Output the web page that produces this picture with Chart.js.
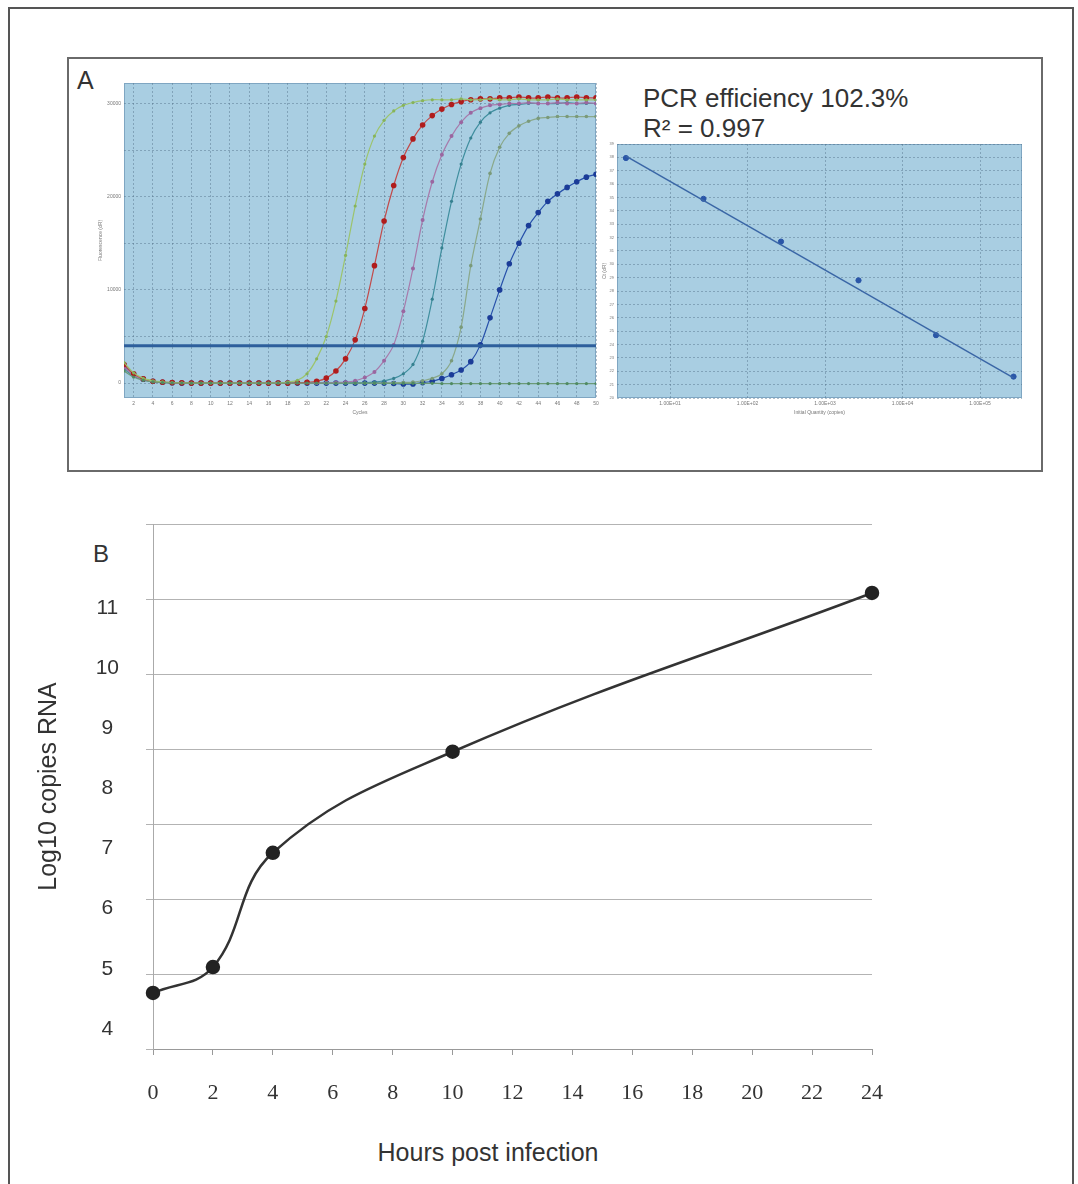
<!DOCTYPE html>
<html>
<head>
<meta charset="utf-8">
<script src="https://cdn.jsdelivr.net/npm/chart.js@4.4.1/dist/chart.umd.min.js"></script>
<style>
  body { margin: 0; background: #fff; width: 1078px; height: 1184px; overflow: hidden; position: relative;
         font-family: "Liberation Sans", Arial, sans-serif; color: #333; }
  .frame { position: absolute; left: 8px; top: 7px; width: 1066px; height: 1200px; border: 2px solid #555;
           border-bottom: none; box-sizing: border-box; }
  .boxA { position: absolute; left: 67px; top: 57px; width: 976px; height: 415px; border: 2px solid #6a6a6a;
          box-sizing: border-box; }
  .txt { position: absolute; white-space: nowrap; }
  canvas { position: absolute; }
</style>
</head>
<body>
<div class="frame"></div>
<div class="boxA"></div>

<div class="txt" style="left:77px;top:68px;font-size:25px;line-height:25px;">A</div>
<div class="txt" style="left:643px;top:85px;font-size:26px;line-height:26px;">PCR efficiency 102.3%</div>
<div class="txt" style="left:643px;top:115px;font-size:26px;line-height:26px;">R² = 0.997</div>
<div class="txt" style="left:93px;top:542px;font-size:24px;line-height:24px;">B</div>
<div class="txt" style="left:338px;width:300px;text-align:center;top:1140px;font-size:25px;line-height:25px;">Hours post infection</div>

<canvas id="amp" width="512" height="343" style="left:90px;top:77px;"></canvas>
<canvas id="std" width="438" height="282" style="left:590px;top:138px;"></canvas>
<canvas id="growth" width="900" height="620" style="left:0px;top:500px;"></canvas>

<script>
// ===== A: amplification plot =====
const cycles = [1,2,3,4,5,6,7,8,9,10,11,12,13,14,15,16,17,18,19,20,21,22,23,24,25,
                26,27,28,29,30,31,32,33,34,35,36,37,38,39,40,41,42,43,44,45,46,47,48,49,50];
const cycleTicks = [2,4,6,8,10,12,14,16,18,20,22,24,26,28,30,32,34,36,38,40,42,44,46,48,50];
const fluorTicks = [0, 5000, 10000, 15000, 20000, 25000, 30000];
const threshold = 4000;

const ampGreen = [2200,1100,500,250,120,60,30,0,0,0, 0,0,0,0,0,0,20,100,300,1000,
                  2600,5000,8800,13700,19000,23500,26500,28200,29200,29800,
                  30100,30300,30400,30400,30400,30500,30400,30400,30500,30400,
                  30400,30500,30400,30400,30400,30500,30400,30400,30400,30400];
const ampRed = [2000,1000,450,200,100,50,20,0,0,0, 0,0,0,0,0,0,0,0,30,80,
                200,535,1300,2600,4640,8000,12600,17400,21200,24200,
                26200,27700,28700,29400,29900,30200,30400,30500,30500,30600,
                30600,30700,30600,30600,30700,30600,30600,30700,30600,30600];
const ampPurple = [1700,850,400,180,90,40,0,0,0,0, 0,0,0,0,0,0,0,0,0,0,
                   0,30,60,100,250,600,1200,2400,4100,7700,
                   12300,17500,21600,24500,26500,28000,29000,29500,29800,29900,
                   30000,30000,30100,30000,30000,30100,30000,30000,30100,30000];
const ampTeal = [1500,750,350,150,70,30,0,0,0,0, 0,0,0,0,0,0,0,0,0,0,
                 0,0,0,0,0,30,100,250,500,1000,
                 2000,4500,9000,14500,19500,23500,26300,28000,29000,29500,
                 29800,29900,30000,30000,30000,30000,30100,30000,30000,30000];
const ampGrey = [1600,800,380,170,80,30,0,0,0,0, 0,0,0,0,0,0,0,0,0,0,
                 0,0,0,0,0,0,0,0,30,60,
                 100,250,500,1000,2400,6000,12600,17600,22500,25300,
                 26800,27600,28100,28400,28500,28600,28600,28600,28600,28600];
const ampBlue = [1900,950,420,190,90,40,0,0,0,0, 0,0,0,0,0,0,0,0,0,0,
                 0,0,0,0,0,0,0,0,-50,-100,
                 -100,50,200,500,900,1400,2300,4100,7000,10000,
                 12800,15000,16900,18300,19500,20300,21000,21600,22100,22400];
const ampFlat = [1300,650,300,120,60,20,0,0,0,0, 0,0,0,0,0,0,0,0,0,0,
                 0,0,0,0,0,0,0,-30,-30,-30, -30,-30,-30,-50,-50,-50,-50,-50,-50,-50,
                 -50,-50,-50,-50,-50,-50,-50,-50,-50,-50];

// ===== A: standard curve =====
const quantity = [2.7, 27, 270, 2700, 27000, 270000];
const ctValues = [37.95, 34.9, 31.7, 28.8, 24.7, 21.6];
const fitQuantity = [2.7, 270000];
const fitCt = [38.1, 21.5];
const qtyTicks = [10, 100, 1000, 10000, 100000];
const qtyTickLabels = ["1.00E+01", "1.00E+02", "1.00E+03", "1.00E+04", "1.00E+05"];
const ctTicks = [20,21,22,23,24,25,26,27,28,29,30,31,32,33,34,35,36,37,38,39];

// ===== B: growth =====
const hours = [0, 2, 4, 10, 24];
const log10Copies = [4.6, 5.03, 6.93, 8.61, 11.25];
const hourTicks = [0,2,4,6,8,10,12,14,16,18,20,22,24];
const yLabels = [4, 5, 6, 7, 8, 9, 10, 11];
const gridSteps = [0, 1, 2, 3, 4, 5, 6, 7];

// plot area background
const plotBg = {
  id: 'plotBg',
  beforeDraw(chart, args, opts) {
    if (!opts.color) return;
    const { ctx, chartArea: a } = chart;
    ctx.save();
    ctx.fillStyle = opts.color;
    ctx.fillRect(a.left, a.top, a.right - a.left, a.bottom - a.top);
    if (opts.edge) {
      ctx.strokeStyle = opts.edge;
      ctx.lineWidth = 1;
      ctx.strokeRect(a.left + 0.5, a.top + 0.5, a.right - a.left - 1, a.bottom - a.top - 1);
    }
    ctx.restore();
  }
};
Chart.register(plotBg);

// fixed axis size, no extra label overflow padding
function fixW(w) {
  return s => { s.width = w; s.paddingTop = 0; s.paddingBottom = 0; s.paddingLeft = 0; s.paddingRight = 0; };
}
function fixH(h) {
  return s => { s.height = h; s.paddingTop = 0; s.paddingBottom = 0; s.paddingLeft = 0; s.paddingRight = 0; };
}

const tiny = { family: '"Liberation Sans"', size: 5 };
const dotGrid = 'rgba(80,110,135,0.45)';

function curve(values, line, dot, r) {
  return {
    data: values.map((v, i) => ({ x: cycles[i], y: v })),
    borderColor: line, borderWidth: 1.2,
    pointRadius: r, pointBackgroundColor: dot, pointBorderColor: dot, pointBorderWidth: 0,
    tension: 0.3, order: 2
  };
}

new Chart(document.getElementById('amp'), {
  type: 'line',
  data: {
    datasets: [
      { data: [{ x: 1, y: threshold }, { x: 50, y: threshold }], borderColor: '#2e5f9c', borderWidth: 3,
        pointRadius: 0, order: 0 },
      curve(ampFlat, '#6c9a78', '#4f8a62', 1.6),
      curve(ampGreen, '#9cc46c', '#86b35a', 1.6),
      curve(ampRed, '#c24a4a', '#b01c1c', 2.8),
      curve(ampPurple, '#a77aab', '#9a66a0', 2),
      curve(ampTeal, '#3f8e9e', '#35808f', 1.6),
      curve(ampGrey, '#8aa88a', '#7a9a7a', 1.8),
      curve(ampBlue, '#2750aa', '#1b3c98', 2.8)
    ]
  },
  options: {
    animation: false, responsive: false, devicePixelRatio: 1,
    layout: { padding: { top: 6, right: 6, left: 0, bottom: 0 }, autoPadding: false },
    plugins: { legend: { display: false }, tooltip: { enabled: false },
               plotBg: { color: '#a9cee2', edge: '#7fa6c2' } },
    scales: {
      x: {
        type: 'linear', min: 1, max: 50,
        afterBuildTicks: s => { s.ticks = cycleTicks.map(v => ({ value: v })); },
        afterFit: fixH(22),
        grid: { color: dotGrid, drawTicks: false },
        border: { display: false, dash: [2, 2] },
        ticks: { padding: 3, color: '#777', font: tiny, maxRotation: 0 },
        title: { display: true, text: 'Cycles', color: '#777', font: tiny, padding: { top: 0, bottom: 4 } }
      },
      y: {
        min: -1600, max: 32200,
        afterBuildTicks: s => { s.ticks = fluorTicks.map(v => ({ value: v })); },
        afterFit: fixW(34),
        grid: { color: dotGrid, drawTicks: false },
        border: { display: false, dash: [2, 2] },
        ticks: { padding: 3, color: '#777', font: tiny, callback: v => (v % 10000 === 0 ? String(v) : '') },
        title: { display: true, text: 'Fluorescence (dR)', color: '#777', font: tiny, padding: { top: 8, bottom: 0 } }
      }
    }
  }
});

new Chart(document.getElementById('std'), {
  type: 'scatter',
  data: {
    datasets: [
      { data: fitQuantity.map((q, i) => ({ x: q, y: fitCt[i] })), showLine: true, borderColor: '#3a66a6',
        borderWidth: 1.5, pointRadius: 0 },
      { data: quantity.map((q, i) => ({ x: q, y: ctValues[i] })), pointRadius: 2.6,
        pointBackgroundColor: '#2a56a8', pointBorderColor: '#2a56a8' }
    ]
  },
  options: {
    animation: false, responsive: false, devicePixelRatio: 1,
    layout: { padding: { top: 6, right: 6, left: 0, bottom: 0 }, autoPadding: false },
    plugins: { legend: { display: false }, tooltip: { enabled: false },
               plotBg: { color: '#a9cee2', edge: '#7fa6c2' } },
    scales: {
      x: {
        type: 'logarithmic', min: 2.07, max: 347000,
        afterBuildTicks: s => { s.ticks = qtyTicks.map(v => ({ value: v })); },
        afterFit: fixH(22),
        grid: { color: dotGrid, drawTicks: false },
        border: { display: false, dash: [2, 2] },
        ticks: { padding: 3, color: '#777', font: tiny, maxRotation: 0, callback: (v, i) => qtyTickLabels[i] },
        title: { display: true, text: 'Initial Quantity (copies)', color: '#777', font: tiny, padding: { top: 0, bottom: 4 } }
      },
      y: {
        min: 20, max: 39,
        afterBuildTicks: s => { s.ticks = ctTicks.map(v => ({ value: v })); },
        afterFit: fixW(27),
        grid: { color: dotGrid, drawTicks: false },
        border: { display: false, dash: [2, 2] },
        ticks: { padding: 3, color: '#777', font: { family: '"Liberation Sans"', size: 4 } },
        title: { display: true, text: 'Ct (dR)', color: '#777', font: tiny, padding: { top: 12, bottom: 0 } }
      }
    }
  }
});

// ===== B: Log10 copies RNA =====
new Chart(document.getElementById('growth'), {
  type: 'line',
  data: {
    datasets: [{
      data: hours.map((h, i) => ({ x: h, y: log10Copies[i] })),
      yAxisID: 'y',
      borderColor: '#333', borderWidth: 2.5,
      pointRadius: 6, pointBackgroundColor: '#222', pointBorderColor: '#222',
      tension: 0.4, clip: false
    }]
  },
  options: {
    animation: false, responsive: false, devicePixelRatio: 1,
    layout: { padding: { top: 24, right: 28, left: 0, bottom: 0 }, autoPadding: false },
    plugins: { legend: { display: false }, tooltip: { enabled: false } },
    scales: {
      x: {
        type: 'linear', min: 0, max: 24,
        afterBuildTicks: s => { s.ticks = hourTicks.map(v => ({ value: v })); },
        afterFit: fixH(71),
        grid: { display: true, drawOnChartArea: false, drawTicks: true, tickLength: 6, color: '#999' },
        border: { display: true, color: '#999' },
        ticks: { padding: 25, color: '#333', maxRotation: 0, font: { family: '"Liberation Serif"', size: 22 } }
      },
      y: {
        position: 'left', weight: 1,
        min: 3.667, max: 12.397,
        afterBuildTicks: s => { s.ticks = yLabels.map(v => ({ value: v })); },
        afterFit: fixW(146),
        grid: { display: false, drawTicks: false },
        border: { display: false },
        ticks: { crossAlign: 'center', padding: 27, color: '#333', font: { family: '"Liberation Sans"', size: 21 } },
        title: { display: true, text: 'Log10 copies RNA', color: '#333',
                 font: { family: '"Liberation Sans"', size: 25 }, padding: { top: 34, bottom: 0 } }
      },
      yg: {
        position: 'left', weight: 0,
        min: 0, max: 7,
        afterBuildTicks: s => { s.ticks = gridSteps.map(v => ({ value: v })); },
        afterFit: fixW(7),
        grid: { color: '#b3b3b3', tickLength: 7 },
        border: { display: true, color: '#aaa' },
        ticks: { display: false }
      }
    }
  }
});
</script>
</body>
</html>
